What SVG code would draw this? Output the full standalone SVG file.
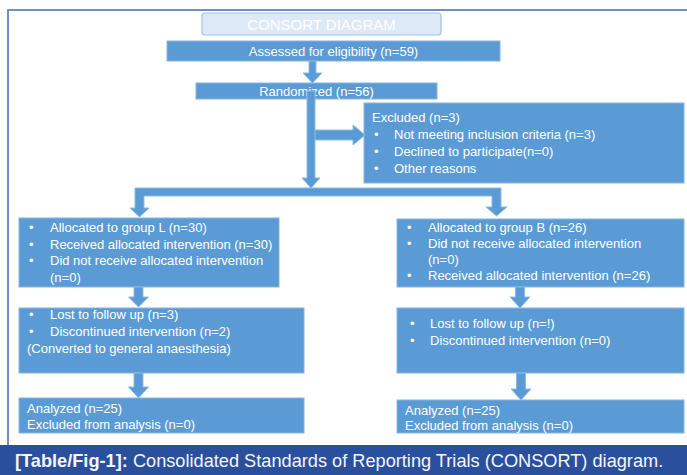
<svg xmlns="http://www.w3.org/2000/svg" width="687" height="475" viewBox="0 0 687 475">
<style>
.box{fill:#5b9bd5;stroke:#87b4df;stroke-width:1}
.title{fill:#dde9f6;stroke:#a3c4e6;stroke-width:1.2}
.conn{fill:#5b9bd5;stroke:#8dbbe6;stroke-width:1}
.t{font-family:"Liberation Sans",Arial,sans-serif;font-size:13px;fill:#ffffff}
.c{text-anchor:middle}
.cap{font-family:"Liberation Sans",Arial,Helvetica,sans-serif;font-size:18.2px;fill:#f4f6fb}
</style>
<rect x="0" y="0" width="687" height="475" fill="#ffffff"/>
<rect x="8" y="10" width="690" height="440" fill="none" stroke="#4d72c0" stroke-width="1.6"/>

<g id="title">
<rect class="title" x="202" y="13" width="239" height="22" rx="3"/>
<text class="t c" x="321.5" y="29.5" style="font-size:15px">CONSORT  DIAGRAM</text>
</g>
<g id="assessed">
<rect class="box" x="167" y="41" width="333" height="20"/>
<text class="t c" x="333.5" y="55.5">Assessed for eligibility (n=59)</text>
</g>
<g id="randomized">
<rect class="box" x="196" y="83" width="241" height="16"/>
<text class="t c" x="316.5" y="95.5">Randomized (n=56)</text>
</g>
<g id="excluded">
<rect class="box" x="364" y="103" width="320" height="80"/>
<text class="t" x="372" y="122">Excluded (n=3)</text>
<text class="t"><tspan x="374" y="139">•</tspan><tspan x="394" y="139">Not meeting inclusion criteria (n=3)</tspan></text>
<text class="t"><tspan x="374" y="156">•</tspan><tspan x="394" y="156">Declined to participate(n=0)</tspan></text>
<text class="t"><tspan x="374" y="173">•</tspan><tspan x="394" y="173">Other reasons</tspan></text>
</g>
<g id="groupL">
<rect class="box" x="19" y="218" width="260" height="69"/>
<text class="t"><tspan x="29" y="232">•</tspan><tspan x="50" y="232">Allocated to group L (n=30)</tspan></text>
<text class="t"><tspan x="29" y="248.5">•</tspan><tspan x="50" y="248.5">Received allocated intervention (n=30)</tspan></text>
<text class="t"><tspan x="29" y="265">•</tspan><tspan x="50" y="265">Did not receive allocated intervention</tspan></text>
<text class="t" x="50" y="281.5">(n=0)</text>
</g>
<g id="groupB">
<rect class="box" x="397" y="219" width="287" height="68"/>
<text class="t"><tspan x="407" y="232">•</tspan><tspan x="428" y="232">Allocated to group B (n=26)</tspan></text>
<text class="t"><tspan x="407" y="248">•</tspan><tspan x="428" y="248">Did not receive allocated intervention</tspan></text>
<text class="t" x="428" y="264">(n=0)</text>
<text class="t"><tspan x="407" y="280">•</tspan><tspan x="428" y="280">Received allocated intervention (n=26)</tspan></text>
</g>
<g id="lostL">
<rect class="box" x="19" y="308" width="285" height="65"/>
<text class="t"><tspan x="29" y="319">•</tspan><tspan x="50" y="319">Lost to follow up (n=3)</tspan></text>
<text class="t"><tspan x="29" y="336">•</tspan><tspan x="50" y="336">Discontinued intervention (n=2)</tspan></text>
<text class="t" x="27" y="353">(Converted to general anaesthesia)</text>
</g>
<g id="lostB">
<rect class="box" x="397" y="308" width="287" height="65"/>
<text class="t"><tspan x="410" y="328">•</tspan><tspan x="430" y="328">Lost to follow up (n=!)</tspan></text>
<text class="t"><tspan x="410" y="345">•</tspan><tspan x="430" y="345">Discontinued intervention (n=0)</tspan></text>
</g>
<g id="analyzedL">
<rect class="box" x="19" y="398" width="285" height="35"/>
<text class="t" x="27" y="413">Analyzed  (n=25)</text>
<text class="t" x="27" y="429">Excluded from analysis  (n=0)</text>
</g>
<g id="analyzedB">
<rect class="box" x="397" y="400" width="287" height="33"/>
<text class="t" x="405" y="415">Analyzed  (n=25)</text>
<text class="t" x="405" y="430">Excluded from analysis  (n=0)</text>
</g>

<g id="connectors">
<polygon class="conn" points="309,61 316,61 316,73 322,73 312.5,83 303,73 309,73"/>
<polygon class="conn" points="311,130 353,130 353,125 365,135 353,145 353,140 311,140"/>
<polygon class="conn" points="307,91 315,91 315,178 320,178 311,188 302,178 307,178"/>
<polygon class="conn" points="135,188 501,188 501,207 507,207 496.5,216 486,207 492,207 492,196 144,196 144,208 149,208 139.5,217 130,208 135,208"/>
<polygon class="conn" points="134,287 143,287 143,297 148.5,297 138.5,307 128.5,297 134,297"/>
<polygon class="conn" points="134,373 143,373 143,387 148.5,387 138.5,398 128.5,387 134,387"/>
<polygon class="conn" points="515.5,287 524.5,287 524.5,297 530,297 520,308 510,297 515.5,297"/>
<polygon class="conn" points="516.5,373 525.5,373 525.5,389 531,389 521,400 511,389 516.5,389"/>
</g>

<g id="caption">
<rect x="0" y="445" width="687" height="30" fill="#2a4f9d"/>
<text class="cap" x="15" y="467"><tspan font-weight="bold">[Table/Fig-1]:</tspan> Consolidated Standards of Reporting Trials (CONSORT) diagram.</text>
</g>
</svg>
